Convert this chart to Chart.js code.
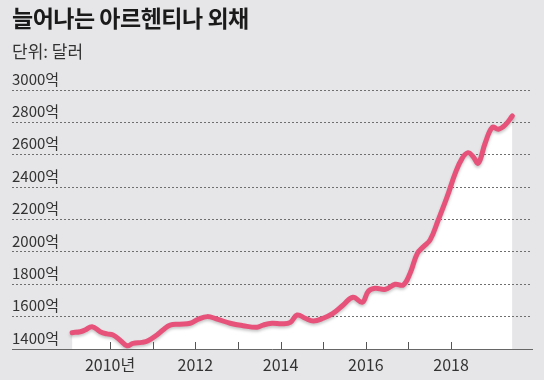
<!DOCTYPE html>
<html>
<head>
<meta charset="utf-8">
<script src="https://cdn.jsdelivr.net/npm/chart.js@4"></script>
<style>
  body { margin: 0; background: #e6e6e8; font-family: "Noto Sans CJK KR", sans-serif; }
  #wrap { position: relative; width: 544px; height: 380px; }
  #title { position: absolute; left: 12px; top: 2px; font-size: 23px; font-weight: bold; color: #1a1a1a; letter-spacing: -0.5px; line-height: 30px; }
  #unit { position: absolute; left: 12px; top: 40px; font-size: 17px; color: #333; letter-spacing: 0px; line-height: 22px; }
  canvas { position: absolute; left: 0; top: 0; }
</style>
</head>
<body>
<div id="wrap">
  <canvas id="myChart" width="544" height="380"></canvas>
  <div id="title">늘어나는 아르헨티나 외채</div>
  <div id="unit">단위: 달러</div>
</div>
<script>
// time in decimal years, debt in 억 달러
const years = [2009.11, 2009.30, 2009.41, 2009.58, 2009.77, 2009.93, 2010.07, 2010.23, 2010.40, 2010.54,
    2010.75, 2010.89, 2011.10, 2011.24, 2011.41, 2011.64, 2011.88, 2012.07, 2012.28, 2012.51,
    2012.82, 2013.12, 2013.45, 2013.59, 2013.80, 2014.04, 2014.23, 2014.39, 2014.58, 2014.77,
    2015.00, 2015.23, 2015.47, 2015.70, 2015.92, 2016.06, 2016.22, 2016.46, 2016.69, 2016.88,
    2017.04, 2017.21, 2017.35, 2017.51, 2017.70, 2017.91, 2018.10, 2018.26, 2018.40, 2018.52,
    2018.64, 2018.80, 2018.97, 2019.11, 2019.27, 2019.44];
const debt = [1501, 1507, 1517, 1538, 1507, 1493, 1487, 1456, 1420, 1435,
    1441, 1451, 1487, 1517, 1548, 1553, 1559, 1584, 1600, 1585,
    1559, 1544, 1534, 1548, 1559, 1556, 1565, 1610, 1590, 1573,
    1590, 1620, 1672, 1720, 1689, 1757, 1775, 1769, 1800, 1796,
    1868, 1991, 2032, 2074, 2197, 2341, 2486, 2578, 2613, 2588,
    2548, 2671, 2770, 2758, 2784, 2840];
const yearTicks = [2010, 2011, 2012, 2013, 2014, 2015, 2016, 2017, 2018];
const yTicks = [1400, 1600, 1800, 2000, 2200, 2400, 2600, 2800, 3000];

const labelFont = { family: '"Noto Sans CJK KR", sans-serif', size: 15 };

// short tick marks pointing up from the x axis
const upTicks = {
    id: 'upTicks',
    afterDraw(chart) {
        const ctx = chart.ctx;
        const x = chart.scales.x;
        const bottom = chart.chartArea.bottom;
        ctx.save();
        ctx.strokeStyle = '#555';
        ctx.lineWidth = 1;
        yearTicks.forEach(v => {
            const px = Math.round(x.getPixelForValue(v)) + 0.5;
            ctx.beginPath();
            ctx.moveTo(px, bottom);
            ctx.lineTo(px, bottom - 7);
            ctx.stroke();
        });
        ctx.restore();
    }
};

// soft shadow under the line
const lineShadow = {
    id: 'lineShadow',
    beforeDatasetDraw(chart) {
        const ctx = chart.ctx;
        ctx.save();
        ctx.shadowColor = 'rgba(0,0,0,0.22)';
        ctx.shadowBlur = 3;
        ctx.shadowOffsetY = 2;
    },
    afterDatasetDraw(chart) {
        chart.ctx.restore();
    }
};

new Chart(document.getElementById('myChart'), {
    type: 'line',
    data: {
        datasets: [{
            data: years.map((y, i) => ({ x: y, y: debt[i] })),
            borderColor: '#e6527a',
            backgroundColor: '#ffffff',
            borderWidth: 5,
            borderCapStyle: 'round',
            borderJoinStyle: 'round',
            pointRadius: 0,
            tension: 0.4,
            fill: 'start'
        }]
    },
    options: {
        responsive: false,
        animation: false,
        layout: { padding: { top: 90, left: 12, right: 12, bottom: 0 } },
        plugins: {
            legend: { display: false },
            tooltip: { enabled: false },
            filler: { drawTime: 'beforeDraw' }
        },
        scales: {
            x: {
                type: 'linear',
                min: 2007.7,
                max: 2019.9,
                afterBuildTicks: axis => { axis.ticks = yearTicks.map(v => ({ value: v })); },
                afterFit: s => { s.height = 31; },
                grid: { display: false, drawTicks: false },
                border: { display: true, color: '#666', width: 1 },
                ticks: {
                    padding: 6,
                    maxRotation: 0,
                    autoSkip: false,
                    color: '#333',
                    font: { family: labelFont.family, size: 16 },
                    callback: v => v === 2010 ? '2010년' : (v % 2 === 0 ? String(v) : '')
                }
            },
            y: {
                min: 1400,
                max: 3000,
                afterBuildTicks: axis => { axis.ticks = yTicks.map(v => ({ value: v })); },
                afterFit: s => { s.width = 0; },
                grid: {
                    drawTicks: false,
                    color: ctx => ctx.tick && ctx.tick.value === 1400 ? 'rgba(0,0,0,0)' : '#6f6f6f',
                    lineWidth: 1
                },
                border: { display: false, dash: [2, 2] },
                ticks: {
                    mirror: true,
                    padding: 0,
                    labelOffset: -11,
                    color: '#333',
                    font: labelFont,
                    callback: v => v + '억'
                }
            }
        }
    },
    plugins: [upTicks, lineShadow]
});
</script>
</body>
</html>
